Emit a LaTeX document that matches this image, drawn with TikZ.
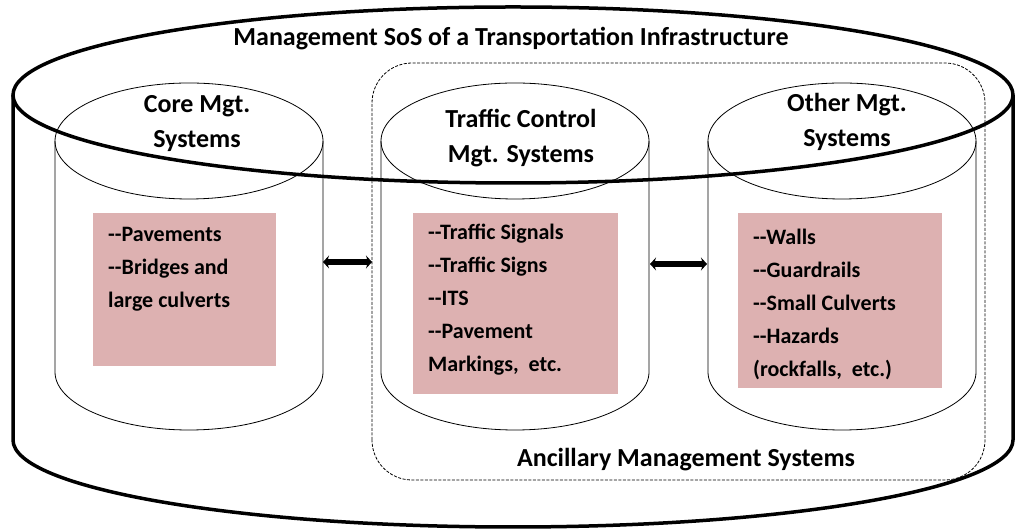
\documentclass[tikz,border=0pt]{standalone}
\usepackage{fontspec}
\setmainfont{Carlito}
\usetikzlibrary{arrows.meta,shadows}
\definecolor{boxpink}{RGB}{221,177,177}
\tikzset{
  bigline/.style={line width=3.5pt},
  cylline/.style={line width=0.8pt},
  groupline/.style={line width=0.8pt,dash pattern=on 3pt off 1.5pt,rounded corners=40pt},
  listbox/.style={fill=boxpink,draw=white,line width=6pt,
    drop shadow={shadow xshift=2pt,shadow yshift=-3pt,opacity=0.3}},
  plainspace/.style={execute at begin node={\spaceskip=0pt\xspaceskip=0pt}},
  listtext/.style={anchor=base west,inner sep=0pt,text width=200pt,align=flush left,plainspace,
    font=\fontsize{22}{33}\selectfont\bfseries},
  headtext/.style={anchor=base,inner sep=0pt,text width=220pt,align=flush center,plainspace,
    font=\fontsize{26}{35}\selectfont\bfseries},
  twoway/.style={line width=6pt,{Stealth[length=6pt,width=13pt]}-{Stealth[length=6pt,width=13pt]}}
}
\begin{document}
\begin{tikzpicture}[x=1pt,y=1pt]
  \useasboundingbox (0,0) rectangle (1015,529);
  % outer cylinder
  \draw[bigline] (13,434) -- (13,89) arc[start angle=180,end angle=360,x radius=500,y radius=87] -- (1013,434);
  \draw[bigline] (513,434) ellipse[x radius=500,y radius=88];
  \node[headtext,text width=700pt] (title) at (511,483) {Management SoS of a Transportation Infrastructure};
  % ancillary group
  \draw[groupline] (372,49) rectangle (985,466);
  \node[headtext,text width=400pt] (ancillary) at (686,62) {Ancillary Management Systems};
  % three system cylinders
  \foreach \cx in {189,515,842} {
    \draw[cylline] (\cx-134,388) -- (\cx-134,157) arc[start angle=180,end angle=360,x radius=134,y radius=58] -- (\cx+134,388);
    \draw[cylline] (\cx,388) ellipse[x radius=134,y radius=58];
  }
  \node[headtext] (core) at (197,416) {Core Mgt.\\Systems};
  \node[headtext] (traffic) at (521,401) {Traffic Control\\Mgt. Systems};
  \node[headtext] (other) at (847,417) {Other Mgt.\\Systems};
  % lists
  \draw[listbox] (90,160) rectangle (279,319);
  \draw[listbox] (410,132) rectangle (621,319);
  \draw[listbox] (735,138) rectangle (945,319);
  \node[listtext] (corelist) at (108,287) {-{}-Pavements\\-{}-Bridges and\\large culverts};
  \node[listtext] (trafficlist) at (428,289) {-{}-Traffic Signals\\-{}-Traffic Signs\\-{}-ITS\\-{}-Pavement\\Markings,~ etc.};
  \node[listtext] (otherlist) at (753,284) {-{}-Walls\\-{}-Guardrails\\-{}-Small Culverts\\-{}-Hazards\\(rockfalls,~ etc.)};
  % links
  \coordinate (core-e) at (323,267);
  \coordinate (group-w) at (372,267);
  \coordinate (traffic-e) at (650,265);
  \coordinate (other-w) at (707,265);
  \draw[twoway] (core-e) -- (group-w);
  \draw[twoway] (traffic-e) -- (other-w);
\end{tikzpicture}
\end{document}
